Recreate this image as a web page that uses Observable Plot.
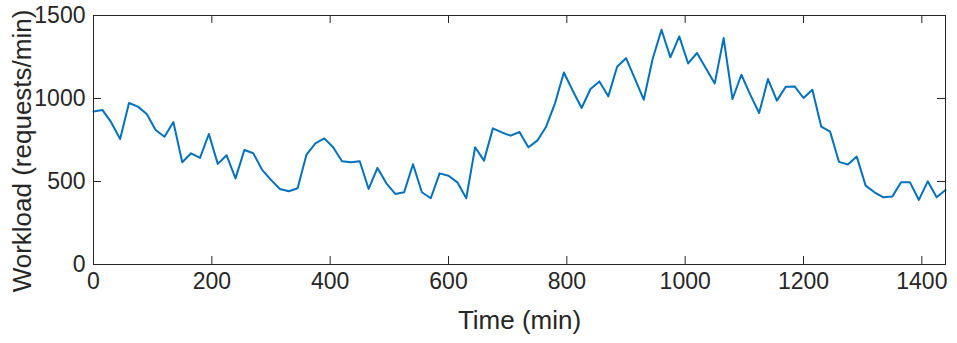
<!DOCTYPE html>
<html><head><meta charset="utf-8">
<script src="https://cdn.jsdelivr.net/npm/d3@7"></script>
<script src="https://cdn.jsdelivr.net/npm/@observablehq/plot@0.6"></script>
<style>body{margin:0;background:#fff}</style>
</head><body><div id="chart"></div>
<script>
const times = [0,15,30,45,60,75,90,105,120,135,150,165,180,195,210,225,240,255,270,285,300,315,330,345,360,375,390,405,420,435,450,465,480,495,510,525,540,555,570,585,600,615,630,645,660,675,690,705,720,735,750,765,780,795,810,825,840,855,870,885,900,915,930,945,960,975,990,1005,1020,1035,1050,1065,1080,1095,1110,1125,1140,1155,1170,1185,1200,1215,1230,1245,1260,1275,1290,1305,1320,1335,1350,1365,1380,1395,1410,1425,1440];
const workload = [922,931,856,756,973,951,907,810,770,858,616,670,642,786,606,658,519,690,670,570,510,455,441,459,662,730,760,706,622,616,622,455,582,489,425,435,604,435,399,549,535,495,399,706,626,820,796,776,798,706,746,830,971,1157,1047,943,1057,1103,1013,1191,1243,1120,993,1238,1414,1248,1374,1211,1274,1182,1091,1364,997,1143,1023,913,1117,987,1071,1073,1003,1053,830,800,618,602,650,475,435,405,409,495,495,389,501,405,449];
const xTicks = [0,200,400,600,800,1000,1200,1400];
const yTicks = [0,500,1000,1500];
const xLabel = "Time (min)";
const yLabel = "Workload (requests/min)";

const data = times.map((t, i) => ({t, w: workload[i]}));
const ink = "#262626";
const W = 957, H = 343, mL = 93, mR = 12, mT = 15, mB = 79;
const fw = W - mL - mR, fh = H - mT - mB, tk = 8;
const chart = Plot.plot({
  width: W, height: H,
  marginLeft: mL, marginRight: mR, marginTop: mT, marginBottom: mB,
  style: {fontFamily: "'Liberation Sans', Arial, sans-serif", color: ink, background: "#fff"},
  x: {domain: [0, 1440]},
  y: {domain: [0, 1500]},
  marks: [
    Plot.line(data, {x: "t", y: "w", stroke: "#0072BD", strokeWidth: 2}),
    Plot.tickX(xTicks, {x: d => d, insetTop: fh - tk, stroke: ink}),
    Plot.tickX(xTicks, {x: d => d, insetBottom: fh - tk, stroke: ink}),
    Plot.tickY(yTicks, {y: d => d, insetRight: fw - tk, stroke: ink}),
    Plot.tickY(yTicks, {y: d => d, insetLeft: fw - tk, stroke: ink}),
    Plot.frame({stroke: ink, strokeWidth: 1}),
    Plot.axisX(xTicks, {anchor: "bottom", tickSize: 0, tickPadding: 8, fontSize: 23, label: null, tickFormat: d => String(d)}),
    Plot.axisY(yTicks, {anchor: "left", tickSize: 0, tickPadding: 8, fontSize: 23, label: null, tickFormat: d => String(d)}),
    Plot.text([xLabel], {text: d => d, frameAnchor: "bottom", textAnchor: "middle", lineAnchor: "middle", dy: 56, fontSize: 26, fill: ink}),
    Plot.text([yLabel], {text: d => d, frameAnchor: "left", textAnchor: "middle", lineAnchor: "middle", rotate: -90, dx: -71, dy: 11, fontSize: 26, fill: ink})
  ]
});
document.getElementById("chart").appendChild(chart);
</script>
</body></html>
